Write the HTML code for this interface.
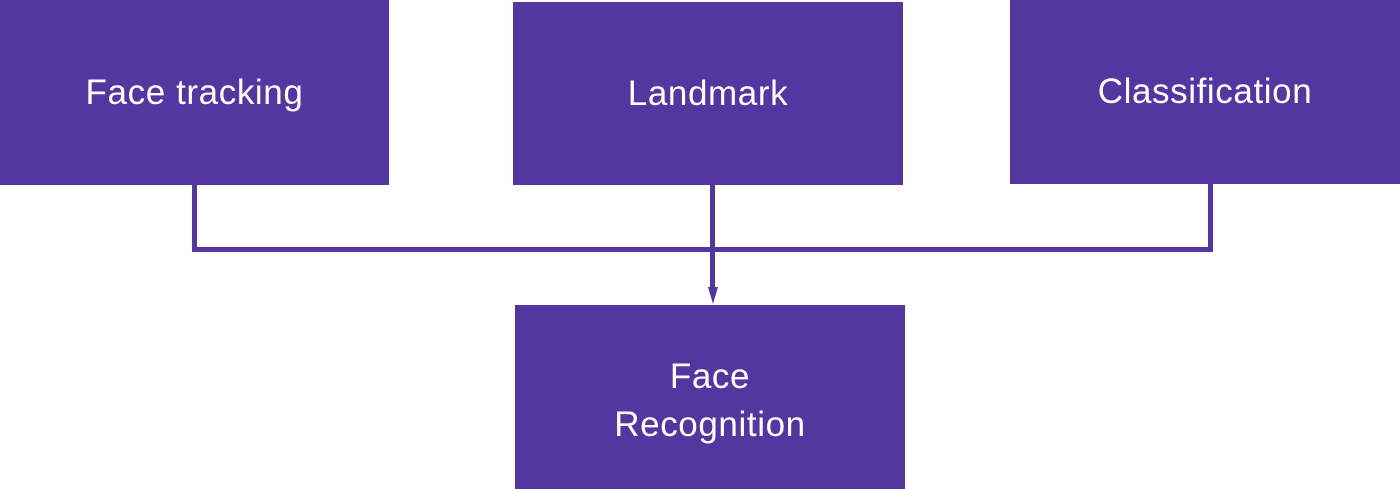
<!DOCTYPE html>
<html><head><style>
body{margin:0;width:1400px;height:489px;background:#fff;position:relative;overflow:hidden;font-family:"Liberation Sans",sans-serif}
.b{position:absolute;background:#5336a0;color:#fff;font-size:35px;letter-spacing:0.6px;display:flex;align-items:center;justify-content:center;text-align:center;line-height:48px}
.l{position:absolute;background:#5336a0}
</style></head><body>
<div class="b" style="left:0;top:0;width:389px;height:185px">Face tracking</div>
<div class="b" style="left:513px;top:2px;width:390px;height:183px">Landmark</div>
<div class="b" style="left:1010px;top:0;width:390px;height:184px">Classification</div>
<div class="b" style="left:515px;top:305px;width:390px;height:184px;padding-top:8px;box-sizing:border-box">Face<br>Recognition</div>
<div class="l" style="left:192px;top:184px;width:5px;height:68px"></div>
<div class="l" style="left:1208px;top:183px;width:5px;height:69px"></div>
<div class="l" style="left:192px;top:247px;width:1021px;height:5px"></div>
<div class="l" style="left:710px;top:184px;width:5px;height:104px"></div>
<svg style="position:absolute;left:700px;top:285px" width="26" height="22"><polygon points="8,2 18,2 13,19" fill="#5336a0"/></svg>
</body></html>
